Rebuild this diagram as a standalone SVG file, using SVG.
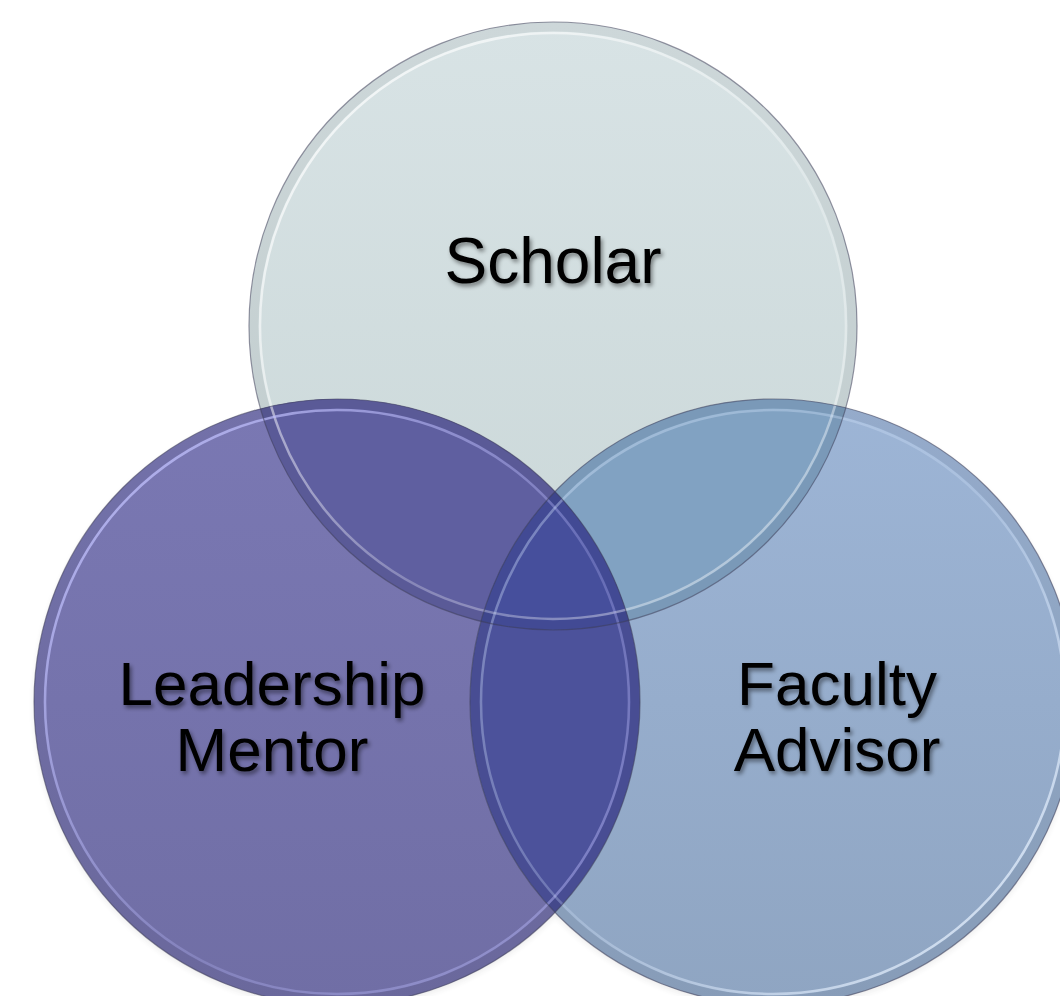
<svg xmlns="http://www.w3.org/2000/svg" width="1060" height="996" viewBox="0 0 1060 996">
  <defs>
    <style>
      .label { font-family: "Liberation Sans", Arial, sans-serif; font-size: 62px; fill: #000; text-anchor: middle; filter: url(#txtShadow); }
      .outline { fill: none; stroke: #3c3c55; stroke-opacity: 0.55; stroke-width: 1.2; }
      .band { fill: none; stroke: #000; stroke-opacity: 0.05; stroke-width: 9; }
      .hl { fill: none; stroke-width: 2.5; }
    </style>
    <filter id="txtShadow" x="-20%" y="-30%" width="140%" height="170%">
      <feDropShadow dx="2" dy="3" stdDeviation="2.2" flood-color="#000" flood-opacity="0.45"/>
    </filter>
    <filter id="circShadow" x="-10%" y="-10%" width="120%" height="125%">
      <feDropShadow dx="0" dy="3" stdDeviation="3" flood-color="#000" flood-opacity="0.3"/>
    </filter>
    <linearGradient id="gS" x1="0" y1="0" x2="0" y2="1">
      <stop offset="0" stop-color="#d8e3e5"/>
      <stop offset="1" stop-color="#cad7d8"/>
    </linearGradient>
    <linearGradient id="gL" x1="0" y1="0" x2="0" y2="1">
      <stop offset="0" stop-color="#7a78b3"/>
      <stop offset="1" stop-color="#706ea5"/>
    </linearGradient>
    <linearGradient id="gF" x1="0" y1="0" x2="0" y2="1">
      <stop offset="0" stop-color="#9db5d6"/>
      <stop offset="1" stop-color="#8fa5c2"/>
    </linearGradient>
    <linearGradient id="hlS" x1="0" y1="0" x2="1" y2="1">
      <stop offset="0" stop-color="#ffffff" stop-opacity="0.8"/>
      <stop offset="0.6" stop-color="#ffffff" stop-opacity="0.25"/>
      <stop offset="1" stop-color="#ffffff" stop-opacity="0.5"/>
    </linearGradient>
    <linearGradient id="hlL" x1="0" y1="0" x2="1" y2="1">
      <stop offset="0" stop-color="#c4c4ff" stop-opacity="0.9"/>
      <stop offset="0.6" stop-color="#b0b0f0" stop-opacity="0.3"/>
      <stop offset="1" stop-color="#b0b0f0" stop-opacity="0.6"/>
    </linearGradient>
    <linearGradient id="hlF" x1="0" y1="0" x2="1" y2="1">
      <stop offset="0" stop-color="#d8e8ff" stop-opacity="0.4"/>
      <stop offset="0.5" stop-color="#d8e8ff" stop-opacity="0.25"/>
      <stop offset="1" stop-color="#eef6ff" stop-opacity="0.9"/>
    </linearGradient>
    <clipPath id="clipS"><circle cx="553" cy="326" r="304"/></clipPath>
    <clipPath id="clipL"><circle cx="337" cy="702" r="303"/></clipPath>
    <clipPath id="clipF"><circle cx="773" cy="702" r="303"/></clipPath>
  </defs>

  <rect width="1060" height="996" fill="#ffffff"/>

  <!-- shadows -->
  <g id="shadows" filter="url(#circShadow)" opacity="0.8">
    <circle cx="337" cy="702" r="303" fill="#8080a0" fill-opacity="0.3"/>
    <circle cx="773" cy="702" r="303" fill="#8090a0" fill-opacity="0.3"/>
  </g>

  <!-- base circles -->
  <g id="scholar-shape"><circle cx="553" cy="326" r="304" fill="url(#gS)"/></g>
  <g id="leadership-shape"><circle cx="337" cy="702" r="303" fill="url(#gL)"/></g>
  <g id="faculty-shape"><circle cx="773" cy="702" r="303" fill="url(#gF)"/></g>

  <!-- overlaps -->
  <g id="overlaps">
    <g clip-path="url(#clipS)"><circle cx="337" cy="702" r="303" fill="#5f5fa0"/></g>
    <g clip-path="url(#clipS)"><circle cx="773" cy="702" r="303" fill="#81a2c2"/></g>
    <g clip-path="url(#clipL)"><circle cx="773" cy="702" r="303" fill="#4c529b"/></g>
    <g clip-path="url(#clipS)"><g clip-path="url(#clipL)"><circle cx="773" cy="702" r="303" fill="#464f9c"/></g></g>
  </g>

  <!-- rims -->
  <g id="rims">
    <circle class="band" cx="553" cy="326" r="299"/>
    <circle class="band" cx="337" cy="702" r="298"/>
    <circle class="band" cx="773" cy="702" r="298"/>
    <circle class="hl" cx="553" cy="326" r="293" stroke="url(#hlS)"/>
    <circle class="hl" cx="337" cy="702" r="292" stroke="url(#hlL)"/>
    <circle class="hl" cx="773" cy="702" r="292" stroke="url(#hlF)"/>
    <circle class="outline" cx="553" cy="326" r="304" stroke-opacity="0.25"/>
    <circle class="outline" cx="337" cy="702" r="303"/>
    <circle class="outline" cx="773" cy="702" r="303" stroke-opacity="0.45"/>
  </g>

  <!-- labels -->
  <g id="scholar">
    <text class="label" x="553" y="283" style="font-size:64px">Scholar</text>
  </g>
  <g id="leadership-mentor">
    <text class="label" x="272" y="705">Leadership</text>
    <text class="label" x="272" y="771">Mentor</text>
  </g>
  <g id="faculty-advisor">
    <text class="label" x="837" y="705">Faculty</text>
    <text class="label" x="837" y="771">Advisor</text>
  </g>
</svg>
